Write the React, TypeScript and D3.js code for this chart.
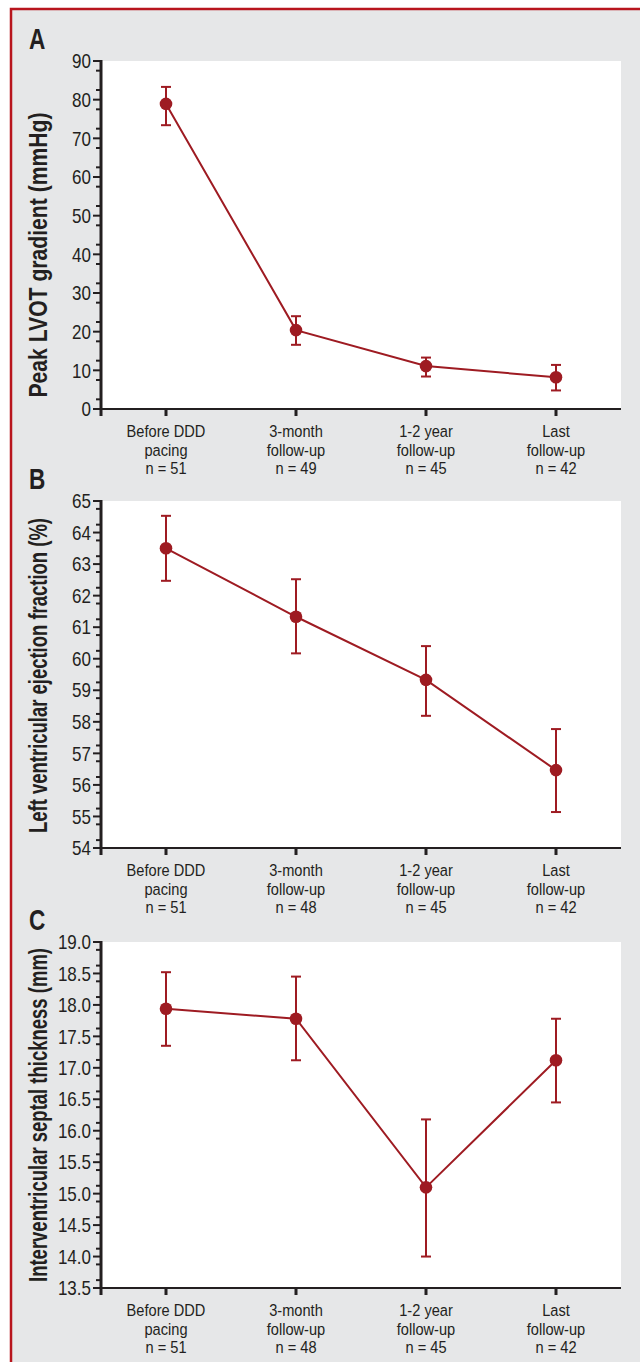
import React from "react";
import * as d3 from "d3";

// x categories, shared by all three panels
const categories = [
  ["Before DDD", "pacing"],
  ["3-month", "follow-up"],
  ["1-2 year", "follow-up"],
  ["Last", "follow-up"]
];

// A: peak LVOT gradient (mmHg)
const gradientN = [51, 49, 45, 42];
const gradientMean = [78.9, 20.4, 11.1, 8.2];
const gradientLow = [73.4, 16.6, 8.4, 4.8];
const gradientHigh = [83.3, 24.0, 13.3, 11.4];
const gradientTicks = [0, 10, 20, 30, 40, 50, 60, 70, 80, 90];

// B: left ventricular ejection fraction (%)
const efN = [51, 48, 45, 42];
const efMean = [63.5, 61.33, 59.33, 56.47];
const efLow = [62.47, 60.17, 58.19, 55.14];
const efHigh = [64.53, 62.52, 60.4, 57.77];
const efTicks = [54, 55, 56, 57, 58, 59, 60, 61, 62, 63, 64, 65];

// C: interventricular septal thickness (mm)
const septalN = [51, 48, 45, 42];
const septalMean = [17.94, 17.78, 15.1, 17.12];
const septalLow = [17.35, 17.12, 14.0, 16.45];
const septalHigh = [18.52, 18.45, 16.18, 17.78];
const septalTicks = [13.5, 14, 14.5, 15, 15.5, 16, 16.5, 17, 17.5, 18, 18.5, 19];

const FONT = "'Liberation Sans', Arial, sans-serif";
const INK = "#231f20";
const RED = "#9e1b22";
const AXIS_X = 101;
const RIGHT = 621;

// condensed text: Liberation Sans squeezed horizontally
const Narrow = ({ x, y, sx = 0.85, anchor = "start", size, bold = false, dy = "0", children }) => (
  <text
    transform={`translate(${x},${y}) scale(${sx},1)`}
    textAnchor={anchor}
    dy={dy}
    fontSize={size}
    fontWeight={bold ? "bold" : "normal"}
    fill={INK}
    fontFamily={FONT}
  >
    {children}
  </text>
);

const Panel = ({ letter, top, bottom, ticks, minorStep, fmt, title, titleLen, titleShift, mean, low, high, n }) => {
  let x = d3
    .scalePoint<number>()
    .domain(categories.map((c, i) => i))
    .range([AXIS_X, RIGHT])
    .padding(0.5);
  let y = d3
    .scaleLinear()
    .domain([ticks[0], ticks[ticks.length - 1]])
    .range([bottom, top]);
  let minor = d3.range(ticks[0], ticks[ticks.length - 1], minorStep).map(v => v + minorStep / 2);
  let line = d3
    .line<number>()
    .x((d, i) => x(i)!)
    .y(d => y(d));

  return (
    <g>
      <Narrow x={29} y={top - 12} sx={0.78} size={29} bold>
        {letter}
      </Narrow>
      <rect x={AXIS_X} y={top} width={RIGHT - AXIS_X} height={bottom - top} fill="#fff" />

      {/* y axis */}
      {ticks.map(t => (
        <g key={"t" + t}>
          <line x1={AXIS_X - 8} x2={AXIS_X} y1={y(t)} y2={y(t)} stroke={INK} strokeWidth={2} />
          <Narrow x={AXIS_X - 10} y={y(t)} dy="0.36em" anchor="end" size={20}>
            {fmt(t)}
          </Narrow>
        </g>
      ))}
      {minor.map(t => (
        <line key={"m" + t} x1={AXIS_X - 5} x2={AXIS_X} y1={y(t)} y2={y(t)} stroke={INK} strokeWidth={2} />
      ))}
      <line x1={AXIS_X} x2={AXIS_X} y1={top - 1} y2={bottom + 7} stroke={INK} strokeWidth={3} />
      <text
        transform={`translate(47,${(top + bottom) / 2 + titleShift}) rotate(-90)`}
        textAnchor="middle"
        fontSize={25}
        fontWeight="bold"
        fill={INK}
        fontFamily={FONT}
        textLength={titleLen}
        lengthAdjust="spacingAndGlyphs"
      >
        {title}
      </text>

      {/* x axis */}
      <line x1={AXIS_X} x2={RIGHT} y1={bottom} y2={bottom} stroke={INK} strokeWidth={2} />
      {categories.map((c, i) => (
        <g key={"c" + i}>
          <line x1={x(i)} x2={x(i)} y1={bottom} y2={bottom + 7} stroke={INK} strokeWidth={3} />
          {[...c, "n = " + n[i]].map((s, j) => (
            <Narrow key={j} x={x(i)} y={bottom + 28 + j * 18.5} anchor="middle" size={17} sx={0.86}>
              {s}
            </Narrow>
          ))}
        </g>
      ))}

      {/* data */}
      <path d={line(mean)!} fill="none" stroke={RED} strokeWidth={2} />
      {mean.map((m, i) => (
        <g key={"d" + i} stroke={RED} strokeWidth={2}>
          <line x1={x(i)} x2={x(i)} y1={y(low[i])} y2={y(high[i])} />
          <line x1={x(i)! - 5} x2={x(i)! + 5} y1={y(low[i])} y2={y(low[i])} />
          <line x1={x(i)! - 5} x2={x(i)! + 5} y1={y(high[i])} y2={y(high[i])} />
          <circle cx={x(i)} cy={y(m)} r={6.3} fill={RED} stroke="none" />
        </g>
      ))}
    </g>
  );
};

const App = () => {
  return (
    <div>
      <style>{"body{margin:0}"}</style>
      <svg width={640} height={1362} style={{ display: "block" }}>
        <rect x={0} y={0} width={640} height={1362} fill="#fff" />
        <rect x={11} y={9} width={660} height={1400} fill="#e6e7e8" stroke="#b8151d" strokeWidth={2.5} />
        <Panel
          letter="A"
          top={61}
          bottom={409}
          ticks={gradientTicks}
          minorStep={5}
          fmt={d3.format("d")}
          title="Peak LVOT gradient (mmHg)"
          titleLen={285}
          titleShift={20}
          mean={gradientMean}
          low={gradientLow}
          high={gradientHigh}
          n={gradientN}
        />
        <Panel
          letter="B"
          top={501}
          bottom={848}
          ticks={efTicks}
          minorStep={0.5}
          fmt={d3.format("d")}
          title="Left ventricular ejection fraction (%)"
          titleLen={315}
          titleShift={1}
          mean={efMean}
          low={efLow}
          high={efHigh}
          n={efN}
        />
        <Panel
          letter="C"
          top={942}
          bottom={1288}
          ticks={septalTicks}
          minorStep={0.25}
          fmt={d3.format(".1f")}
          title="Interventricular septal thickness (mm)"
          titleLen={334}
          titleShift={0}
          mean={septalMean}
          low={septalLow}
          high={septalHigh}
          n={septalN}
        />
      </svg>
    </div>
  );
};

export default App;
